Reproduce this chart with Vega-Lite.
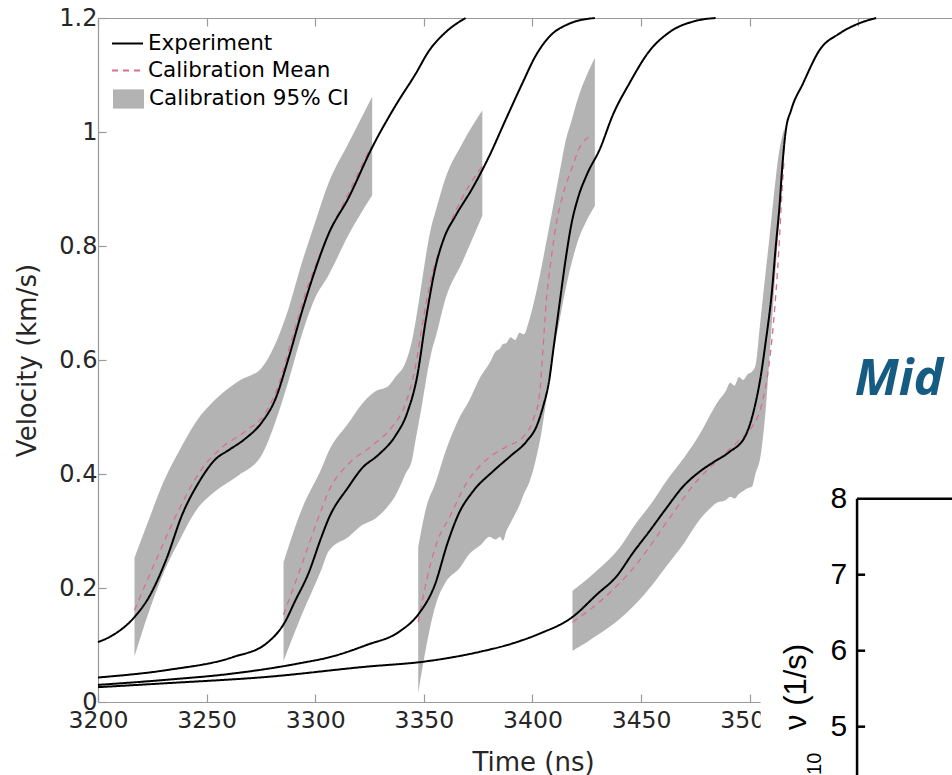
{
  "$schema": "https://vega.github.io/schema/vega-lite/v6.json",
  "width": 854,
  "height": 684,
  "autosize": {"type": "none"},
  "padding": {"left": 98, "top": 18, "right": 0, "bottom": 73},
  "background": "white",
  "config": {"view": {"stroke": null}, "axis": {"grid": false}},
  "datasets": {
    "exp": [
      {"r":1,"t":3200,"v":0.105},{"r":1,"t":3208.4,"v":0.121},{"r":1,"t":3216.8,"v":0.149},{"r":1,"t":3223.6,"v":0.185},{"r":1,"t":3231.3,"v":0.249},{"r":1,"t":3238.9,"v":0.33},{"r":1,"t":3246.5,"v":0.386},{"r":1,"t":3254.1,"v":0.426},{"r":1,"t":3260.2,"v":0.442},{"r":1,"t":3267.8,"v":0.462},{"r":1,"t":3275.5,"v":0.491},{"r":1,"t":3281.6,"v":0.531},{"r":1,"t":3287.7,"v":0.603},{"r":1,"t":3293.8,"v":0.684},{"r":1,"t":3299.8,"v":0.756},{"r":1,"t":3306,"v":0.82},{"r":1,"t":3315.4,"v":0.885},{"r":1,"t":3326.2,"v":0.973},{"r":1,"t":3336.9,"v":1.046},{"r":1,"t":3346.2,"v":1.102},{"r":1,"t":3352.3,"v":1.142},{"r":1,"t":3360,"v":1.175},{"r":1,"t":3369.2,"v":1.2},
      {"r":2,"t":3200,"v":0.043},{"r":2,"t":3231.6,"v":0.056},{"r":2,"t":3262.3,"v":0.079},{"r":2,"t":3277.6,"v":0.103},{"r":2,"t":3286,"v":0.14},{"r":2,"t":3290.7,"v":0.177},{"r":2,"t":3296.8,"v":0.225},{"r":2,"t":3302.9,"v":0.29},{"r":2,"t":3306.2,"v":0.322},{"r":2,"t":3315.4,"v":0.378},{"r":2,"t":3321.5,"v":0.41},{"r":2,"t":3329.2,"v":0.434},{"r":2,"t":3336.9,"v":0.467},{"r":2,"t":3342.3,"v":0.507},{"r":2,"t":3346.9,"v":0.571},{"r":2,"t":3350.8,"v":0.668},{"r":2,"t":3355.4,"v":0.764},{"r":2,"t":3359.2,"v":0.813},{"r":2,"t":3364.6,"v":0.853},{"r":2,"t":3372.3,"v":0.901},{"r":2,"t":3380,"v":0.957},{"r":2,"t":3387.7,"v":1.022},{"r":2,"t":3395.4,"v":1.086},{"r":2,"t":3401.5,"v":1.134},{"r":2,"t":3407.7,"v":1.167},{"r":2,"t":3416.9,"v":1.19},{"r":2,"t":3428.7,"v":1.2},
      {"r":3,"t":3200,"v":0.03},{"r":3,"t":3231.6,"v":0.039},{"r":3,"t":3262.3,"v":0.05},{"r":3,"t":3292.9,"v":0.068},{"r":3,"t":3308,"v":0.08},{"r":3,"t":3323.6,"v":0.1},{"r":3,"t":3338.9,"v":0.124},{"r":3,"t":3347.5,"v":0.154},{"r":3,"t":3355,"v":0.205},{"r":3,"t":3361,"v":0.28},{"r":3,"t":3366,"v":0.33},{"r":3,"t":3372.7,"v":0.37},{"r":3,"t":3381.9,"v":0.405},{"r":3,"t":3390,"v":0.432},{"r":3,"t":3397.2,"v":0.457},{"r":3,"t":3402,"v":0.485},{"r":3,"t":3405,"v":0.52},{"r":3,"t":3407.5,"v":0.56},{"r":3,"t":3410,"v":0.63},{"r":3,"t":3412.5,"v":0.7},{"r":3,"t":3415,"v":0.77},{"r":3,"t":3418,"v":0.84},{"r":3,"t":3421,"v":0.885},{"r":3,"t":3425,"v":0.925},{"r":3,"t":3431,"v":0.97},{"r":3,"t":3437,"v":1.03},{"r":3,"t":3444.7,"v":1.086},{"r":3,"t":3453.8,"v":1.142},{"r":3,"t":3463,"v":1.175},{"r":3,"t":3475.2,"v":1.195},{"r":3,"t":3484.3,"v":1.2},
      {"r":4,"t":3200,"v":0.026},{"r":4,"t":3231.6,"v":0.033},{"r":4,"t":3277.6,"v":0.044},{"r":4,"t":3323.6,"v":0.062},{"r":4,"t":3350.4,"v":0.071},{"r":4,"t":3375.7,"v":0.088},{"r":4,"t":3391,"v":0.103},{"r":4,"t":3403.3,"v":0.12},{"r":4,"t":3418,"v":0.148},{"r":4,"t":3430,"v":0.19},{"r":4,"t":3438.6,"v":0.22},{"r":4,"t":3446.3,"v":0.262},{"r":4,"t":3453.9,"v":0.3},{"r":4,"t":3461.6,"v":0.34},{"r":4,"t":3469.3,"v":0.378},{"r":4,"t":3476.9,"v":0.404},{"r":4,"t":3483,"v":0.42},{"r":4,"t":3490.4,"v":0.438},{"r":4,"t":3498,"v":0.467},{"r":4,"t":3502.6,"v":0.523},{"r":4,"t":3505,"v":0.57},{"r":4,"t":3507.2,"v":0.628},{"r":4,"t":3510.2,"v":0.72},{"r":4,"t":3512,"v":0.8},{"r":4,"t":3513.7,"v":0.87},{"r":4,"t":3515,"v":0.94},{"r":4,"t":3516.5,"v":1.0},{"r":4,"t":3519.1,"v":1.039},{"r":4,"t":3524.5,"v":1.085},{"r":4,"t":3532.2,"v":1.144},{"r":4,"t":3541.4,"v":1.173},{"r":4,"t":3550.6,"v":1.191},{"r":4,"t":3558.2,"v":1.2}
    ],
    "mean": [
      {"r":1,"t":3216.8,"v":0.161},{"r":1,"t":3226.7,"v":0.249},{"r":1,"t":3237.3,"v":0.338},{"r":1,"t":3248,"v":0.41},{"r":1,"t":3257.2,"v":0.447},{"r":1,"t":3267.8,"v":0.475},{"r":1,"t":3277,"v":0.507},{"r":1,"t":3283,"v":0.555},{"r":1,"t":3289.2,"v":0.636},{"r":1,"t":3296.8,"v":0.732},{"r":1,"t":3302.9,"v":0.792},{"r":1,"t":3306,"v":0.82},{"r":1,"t":3315.4,"v":0.893},{"r":1,"t":3325.4,"v":0.973},
      {"r":2,"t":3285.4,"v":0.153},{"r":2,"t":3293.8,"v":0.241},{"r":2,"t":3302.9,"v":0.338},{"r":2,"t":3306.2,"v":0.37},{"r":2,"t":3315.4,"v":0.418},{"r":2,"t":3326.2,"v":0.45},{"r":2,"t":3335.4,"v":0.483},{"r":2,"t":3341.5,"v":0.523},{"r":2,"t":3346.2,"v":0.59},{"r":2,"t":3349.2,"v":0.66},{"r":2,"t":3353.8,"v":0.75},{"r":2,"t":3360,"v":0.82},{"r":2,"t":3367.7,"v":0.885},{"r":2,"t":3376.9,"v":0.94},
      {"r":3,"t":3347.4,"v":0.14},{"r":3,"t":3352.7,"v":0.237},{"r":3,"t":3356,"v":0.28},{"r":3,"t":3361.9,"v":0.325},{"r":3,"t":3369.6,"v":0.384},{"r":3,"t":3378.8,"v":0.425},{"r":3,"t":3388,"v":0.448},{"r":3,"t":3395.7,"v":0.465},{"r":3,"t":3400.3,"v":0.495},{"r":3,"t":3403.3,"v":0.541},{"r":3,"t":3404.8,"v":0.618},{"r":3,"t":3406.4,"v":0.705},{"r":3,"t":3408.7,"v":0.78},{"r":3,"t":3411,"v":0.84},{"r":3,"t":3414,"v":0.89},{"r":3,"t":3418,"v":0.935},{"r":3,"t":3422,"v":0.975},{"r":3,"t":3427.9,"v":0.995},
      {"r":4,"t":3418.4,"v":0.14},{"r":4,"t":3432.5,"v":0.181},{"r":4,"t":3447.7,"v":0.241},{"r":4,"t":3463,"v":0.322},{"r":4,"t":3475.2,"v":0.386},{"r":4,"t":3485.8,"v":0.426},{"r":4,"t":3495,"v":0.459},{"r":4,"t":3501.1,"v":0.483},{"r":4,"t":3505.6,"v":0.523},{"r":4,"t":3508.7,"v":0.587},{"r":4,"t":3511,"v":0.668},{"r":4,"t":3513.3,"v":0.788},{"r":4,"t":3514.8,"v":0.893},{"r":4,"t":3515.8,"v":0.95}
    ],
    "band": [
      {"b":1,"t":3216.8,"lo":0.08,"hi":0.253},{"b":1,"t":3223.6,"lo":0.16,"hi":0.322},{"b":1,"t":3230,"lo":0.225,"hi":0.385},{"b":1,"t":3237.3,"lo":0.282,"hi":0.44},{"b":1,"t":3245,"lo":0.335,"hi":0.491},{"b":1,"t":3254.1,"lo":0.37,"hi":0.531},{"b":1,"t":3264.8,"lo":0.398,"hi":0.563},{"b":1,"t":3275.5,"lo":0.434,"hi":0.587},{"b":1,"t":3281.6,"lo":0.491,"hi":0.628},{"b":1,"t":3287.7,"lo":0.563,"hi":0.69},{"b":1,"t":3293.8,"lo":0.644,"hi":0.77},{"b":1,"t":3299.8,"lo":0.708,"hi":0.84},{"b":1,"t":3306,"lo":0.748,"hi":0.909},{"b":1,"t":3315.4,"lo":0.82,"hi":0.981},{"b":1,"t":3326.2,"lo":0.889,"hi":1.062},
      {"b":2,"t":3285.4,"lo":0.072,"hi":0.245},{"b":2,"t":3293.8,"lo":0.153,"hi":0.338},{"b":2,"t":3302.9,"lo":0.233,"hi":0.41},{"b":2,"t":3306.2,"lo":0.265,"hi":0.44},{"b":2,"t":3315.4,"lo":0.29,"hi":0.49},{"b":2,"t":3321.5,"lo":0.31,"hi":0.523},{"b":2,"t":3327.7,"lo":0.322,"hi":0.545},{"b":2,"t":3333.8,"lo":0.345,"hi":0.555},{"b":2,"t":3336.9,"lo":0.362,"hi":0.57},{"b":2,"t":3341.5,"lo":0.4,"hi":0.595},{"b":2,"t":3344.6,"lo":0.426,"hi":0.635},{"b":2,"t":3346.2,"lo":0.46,"hi":0.668},{"b":2,"t":3349.2,"lo":0.523,"hi":0.74},{"b":2,"t":3350.8,"lo":0.56,"hi":0.78},{"b":2,"t":3353.8,"lo":0.619,"hi":0.84},{"b":2,"t":3355.4,"lo":0.64,"hi":0.861},{"b":2,"t":3360,"lo":0.708,"hi":0.92},{"b":2,"t":3367.7,"lo":0.772,"hi":0.98},{"b":2,"t":3376.9,"lo":0.853,"hi":1.038},
      {"b":3,"t":3347.4,"lo":0.016,"hi":0.272},{"b":3,"t":3351,"lo":0.095,"hi":0.34},{"b":3,"t":3355.4,"lo":0.17,"hi":0.385},{"b":3,"t":3360,"lo":0.21,"hi":0.44},{"b":3,"t":3366.5,"lo":0.235,"hi":0.5},{"b":3,"t":3371,"lo":0.26,"hi":0.53},{"b":3,"t":3376,"lo":0.275,"hi":0.57},{"b":3,"t":3380.3,"lo":0.29,"hi":0.595},{"b":3,"t":3383,"lo":0.285,"hi":0.615},{"b":3,"t":3385,"lo":0.29,"hi":0.62},{"b":3,"t":3386.4,"lo":0.283,"hi":0.628},{"b":3,"t":3388,"lo":0.3,"hi":0.63},{"b":3,"t":3390,"lo":0.315,"hi":0.64},{"b":3,"t":3392,"lo":0.33,"hi":0.635},{"b":3,"t":3394,"lo":0.345,"hi":0.648},{"b":3,"t":3396,"lo":0.365,"hi":0.645},{"b":3,"t":3398.5,"lo":0.385,"hi":0.67},{"b":3,"t":3401.8,"lo":0.43,"hi":0.72},{"b":3,"t":3404,"lo":0.47,"hi":0.76},{"b":3,"t":3406,"lo":0.52,"hi":0.8},{"b":3,"t":3408,"lo":0.57,"hi":0.84},{"b":3,"t":3410,"lo":0.62,"hi":0.88},{"b":3,"t":3412.5,"lo":0.67,"hi":0.93},{"b":3,"t":3415,"lo":0.72,"hi":0.98},{"b":3,"t":3418,"lo":0.77,"hi":1.02},{"b":3,"t":3421,"lo":0.81,"hi":1.06},{"b":3,"t":3425,"lo":0.845,"hi":1.1},{"b":3,"t":3428.7,"lo":0.87,"hi":1.13},
      {"b":4,"t":3418.4,"lo":0.09,"hi":0.195},{"b":4,"t":3425,"lo":0.105,"hi":0.215},{"b":4,"t":3431,"lo":0.12,"hi":0.235},{"b":4,"t":3440,"lo":0.145,"hi":0.27},{"b":4,"t":3447,"lo":0.17,"hi":0.31},{"b":4,"t":3455,"lo":0.205,"hi":0.35},{"b":4,"t":3462,"lo":0.24,"hi":0.39},{"b":4,"t":3470,"lo":0.28,"hi":0.43},{"b":4,"t":3477,"lo":0.32,"hi":0.47},{"b":4,"t":3481.3,"lo":0.338,"hi":0.5},{"b":4,"t":3485,"lo":0.35,"hi":0.525},{"b":4,"t":3488.9,"lo":0.354,"hi":0.545},{"b":4,"t":3491,"lo":0.36,"hi":0.56},{"b":4,"t":3493,"lo":0.357,"hi":0.555},{"b":4,"t":3495,"lo":0.365,"hi":0.57},{"b":4,"t":3497,"lo":0.37,"hi":0.565},{"b":4,"t":3499,"lo":0.375,"hi":0.575},{"b":4,"t":3501.1,"lo":0.378,"hi":0.58},{"b":4,"t":3502.6,"lo":0.4,"hi":0.59},{"b":4,"t":3504.9,"lo":0.43,"hi":0.668},{"b":4,"t":3507.2,"lo":0.507,"hi":0.75},{"b":4,"t":3509.5,"lo":0.627,"hi":0.83},{"b":4,"t":3511.7,"lo":0.748,"hi":0.91},{"b":4,"t":3513.3,"lo":0.83,"hi":0.96},{"b":4,"t":3514.8,"lo":0.909,"hi":0.99},{"b":4,"t":3516,"lo":0.97,"hi":1.007}
    ],
    "insetRules": [
      {"x1":3549.4,"x2":3549.4,"y1":0.3566,"y2":-0.25},
      {"x1":3549.4,"x2":3600,"y1":0.3566,"y2":0.3566},
      {"x1":3549.4,"x2":3553.1,"y1":0.2233,"y2":0.2233},
      {"x1":3549.4,"x2":3553.1,"y1":0.09,"y2":0.09},
      {"x1":3549.4,"x2":3553.1,"y1":-0.0433,"y2":-0.0433}
    ],
    "insetLabels": [
      {"t":3544.8,"v":0.3566,"label":"8"},
      {"t":3544.8,"v":0.2233,"label":"7"},
      {"t":3544.8,"v":0.09,"label":"6"},
      {"t":3544.8,"v":-0.0433,"label":"5"}
    ]
  },
  "resolve": {"axis": {"x": "independent", "y": "independent"}},
  "layer": [
    {
      "data": {"name": "band"},
      "mark": {"type": "area", "opacity": 1, "interpolate": "monotone"},
      "encoding": {
        "x": {"field": "t", "type": "quantitative",
          "scale": {"domain": [3200, 3593.1], "nice": false, "zero": false},
          "axis": {"orient": "bottom", "values": [3200,3250,3300,3350,3400,3450,3500,3550], "format": "d",
            "tickSize": -8, "tickColor": "#9a9a9a", "tickWidth": 1.2, "domainColor": "#9a9a9a", "domainWidth": 1.2,
            "labelFont": "DejaVu Sans", "labelFontSize": 23.5, "labelColor": "#262626", "labelPadding": 14.5,
            "labelFlush": false, "labelOverlap": false,
            "title": "Time (ns)", "titleFont": "DejaVu Sans", "titleFontSize": 26, "titleFontWeight": "normal", "titleColor": "#262626",
            "titleX": 435, "titleY": 68, "titleAlign": "center", "titleBaseline": "alphabetic", "titleAnchor": null}},
        "y": {"field": "lo", "type": "quantitative", "stack": null,
          "scale": {"domain": [0, 1.2], "nice": false, "zero": false},
          "axis": {"orient": "left", "values": [0,0.2,0.4,0.6,0.8,1,1.2], "format": "~g",
            "tickSize": -8, "tickColor": "#9a9a9a", "tickWidth": 1.2, "domainColor": "#9a9a9a", "domainWidth": 1.2,
            "labelFont": "DejaVu Sans", "labelFontSize": 24, "labelColor": "#262626", "labelPadding": 9,
            "labelFlush": false, "labelOverlap": false,
            "title": "Velocity (km/s)", "titleFont": "DejaVu Sans", "titleFontSize": 26, "titleFontWeight": "normal", "titleColor": "#262626",
            "titleX": -63, "titleY": 342, "titleAngle": 270, "titleAlign": "center", "titleBaseline": "alphabetic", "titleAnchor": null}},
        "y2": {"field": "hi"},
        "detail": {"field": "b"},
        "fill": {"datum": "Calibration 95% CI", "type": "nominal",
          "scale": {"domain": ["Calibration 95% CI"], "range": ["#b3b3b3"]},
          "legend": {"title": null, "orient": "none", "legendX": 14, "legendY": 64.5, "padding": 0,
            "symbolSize": 961, "symbolType": "M-1,-0.62H1V0.62H-1Z", "symbolStrokeWidth": 1.8, "symbolStrokeColor": "transparent", "symbolOpacity": 1,
            "labelFont": "DejaVu Sans", "labelFontSize": 21.5, "labelColor": "#000000", "labelOffset": 4, "labelLimit": 400}}
      }
    },
    {
      "data": {"name": "mean"},
      "mark": {"type": "line", "strokeWidth": 1.3, "interpolate": "monotone"},
      "encoding": {
        "x": {"field": "t", "type": "quantitative",
          "axis": {"orient": "top", "values": [3200,3250,3300,3350,3400,3450,3500,3550], "labels": false, "title": null,
            "tickSize": -8, "tickColor": "#9a9a9a", "tickWidth": 1.2, "domainColor": "#9a9a9a", "domainWidth": 1.2}},
        "y": {"field": "v", "type": "quantitative", "axis": null},
        "detail": {"field": "r"},
        "color": {"datum": "Calibration Mean", "type": "nominal",
          "scale": {"domain": ["Experiment", "Calibration Mean"], "range": ["#000000", "#d9708a"]},
          "legend": {"title": null, "orient": "none", "legendX": 13, "legendY": 9, "padding": 0,
            "symbolSize": 961, "symbolType": "M-1,0H1", "rowPadding": -5, "symbolStrokeWidth": 1.8,
            "labelFont": "DejaVu Sans", "labelFontSize": 21.5, "labelColor": "#000000", "labelOffset": 4, "labelLimit": 400}},
        "strokeDash": {"datum": "Calibration Mean", "type": "nominal",
          "scale": {"domain": ["Experiment", "Calibration Mean"], "range": [[1, 0], [6, 5]]},
          "legend": {"title": null, "orient": "none", "legendX": 13, "legendY": 9, "padding": 0,
            "symbolSize": 961, "symbolType": "M-1,0H1", "rowPadding": -5, "symbolStrokeWidth": 1.8,
            "labelFont": "DejaVu Sans", "labelFontSize": 21.5, "labelColor": "#000000", "labelOffset": 4, "labelLimit": 400}}
      }
    },
    {
      "data": {"name": "exp"},
      "mark": {"type": "line", "strokeWidth": 2, "interpolate": "monotone"},
      "encoding": {
        "x": {"field": "t", "type": "quantitative", "axis": null},
        "y": {"field": "v", "type": "quantitative", "axis": null},
        "detail": {"field": "r"},
        "color": {"datum": "Experiment", "type": "nominal"},
        "strokeDash": {"datum": "Experiment", "type": "nominal"}
      }
    },
    {
      "data": {"values": [{"x1": 3505, "x2": 3600, "y1": 0.4, "y2": -0.25}]},
      "mark": {"type": "rect", "fill": "white", "clip": false},
      "encoding": {
        "x": {"field": "x1", "type": "quantitative", "axis": null},
        "x2": {"field": "x2"},
        "y": {"field": "y1", "type": "quantitative", "axis": null},
        "y2": {"field": "y2"}
      }
    },
    {
      "data": {"name": "insetRules"},
      "mark": {"type": "rule", "color": "#000000", "strokeWidth": 2.5, "clip": false},
      "encoding": {
        "x": {"field": "x1", "type": "quantitative", "axis": null},
        "x2": {"field": "x2"},
        "y": {"field": "y1", "type": "quantitative", "axis": null},
        "y2": {"field": "y2"}
      }
    },
    {
      "data": {"name": "insetLabels"},
      "mark": {"type": "text", "align": "right", "baseline": "middle", "font": "Liberation Sans", "fontSize": 30, "color": "#000000", "clip": false},
      "encoding": {
        "x": {"field": "t", "type": "quantitative", "axis": null},
        "y": {"field": "v", "type": "quantitative", "axis": null},
        "text": {"field": "label"}
      }
    },
    {
      "data": {"values": [{"t": 3548.3, "v": 0.5386, "label": "Mid"}]},
      "mark": {"type": "text", "align": "left", "baseline": "alphabetic", "font": "Open Sans", "fontSize": 50, "fontStyle": "italic", "fontWeight": "bold", "color": "#165b82", "clip": false},
      "encoding": {
        "x": {"field": "t", "type": "quantitative", "axis": null},
        "y": {"field": "v", "type": "quantitative", "axis": null},
        "text": {"field": "label"}
      }
    },
    {
      "data": {"values": [{"t": 3525.9, "v": -0.049, "label": "ν (1/s)", "s": 31}, {"t": 3532.8, "v": -0.128, "label": "10", "s": 20}]},
      "mark": {"type": "text", "align": "left", "baseline": "alphabetic", "angle": 270, "font": "Liberation Sans", "color": "#000000", "clip": false},
      "encoding": {
        "x": {"field": "t", "type": "quantitative", "axis": null},
        "y": {"field": "v", "type": "quantitative", "axis": null},
        "text": {"field": "label"},
        "size": {"field": "s", "type": "quantitative", "scale": null, "legend": null}
      }
    }
  ]
}
